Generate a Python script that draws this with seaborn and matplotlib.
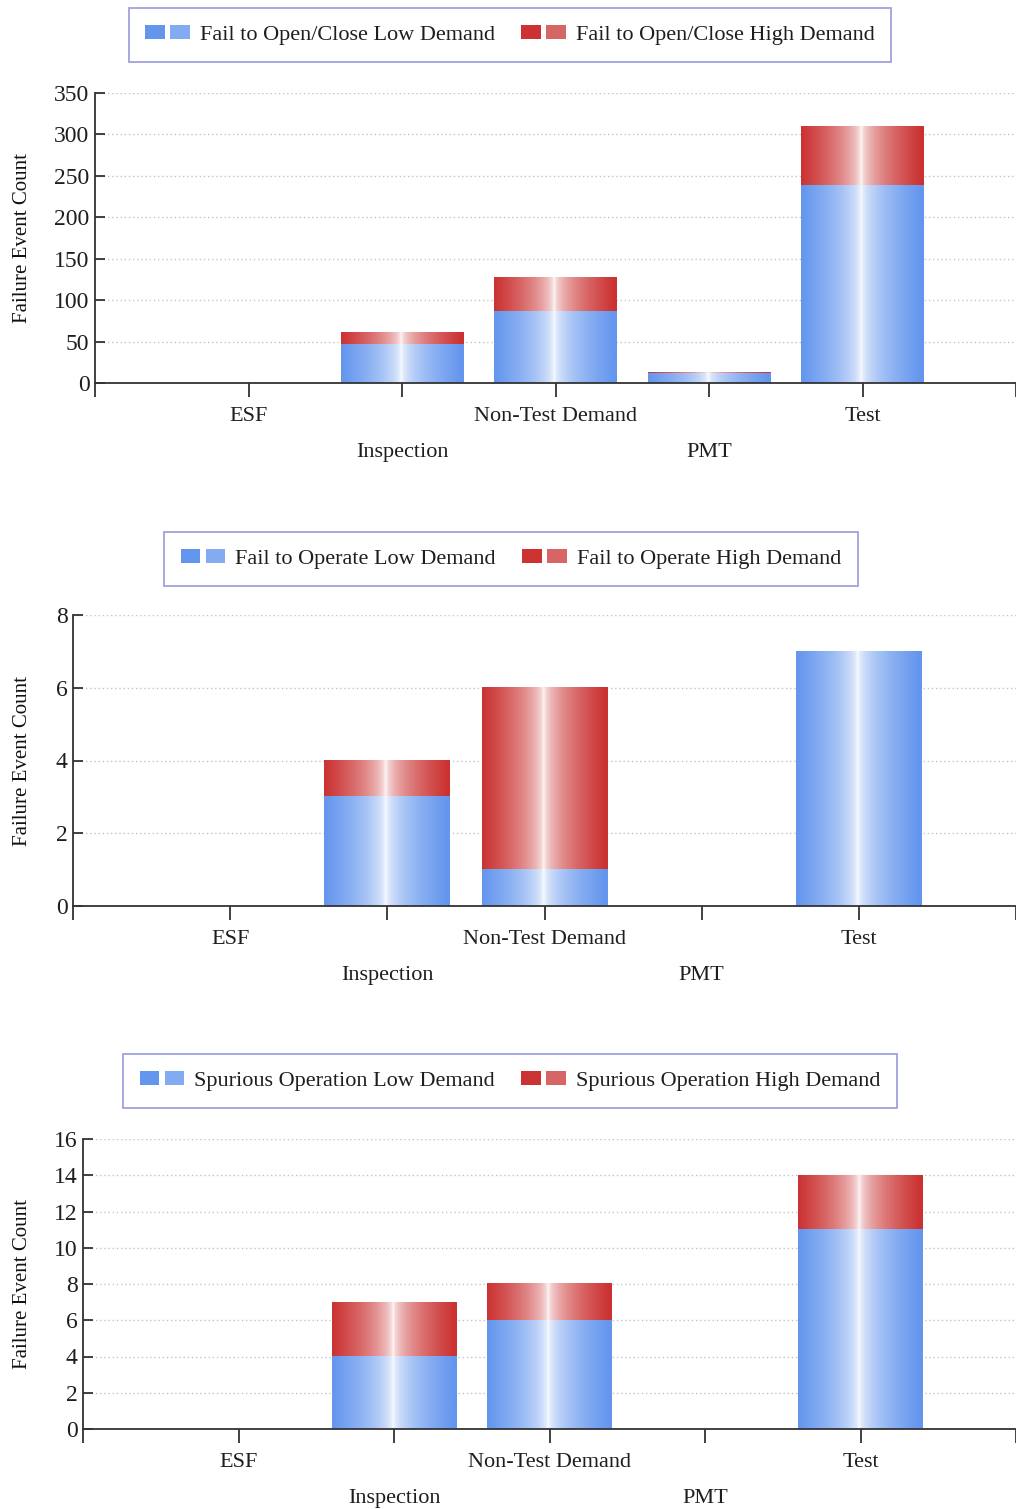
import numpy as np
import pandas as pd
import matplotlib
matplotlib.use('Agg')
import matplotlib.pyplot as plt
import seaborn as sns
from matplotlib.patches import Rectangle
from matplotlib.legend_handler import HandlerTuple
from matplotlib.colors import to_rgb
import matplotlib.transforms as mtransforms

# ---------------- data ----------------
categories = ['ESF', 'Inspection', 'Non-Test Demand', 'PMT', 'Test']

open_close_low = [0, 46, 86, 12, 238]
open_close_high = [0, 15, 41, 1, 72]

operate_low = [0, 3, 1, 0, 7]
operate_high = [0, 1, 5, 0, 0]

spurious_low = [0, 4, 6, 0, 11]
spurious_high = [0, 3, 2, 0, 3]

legend_labels = [
    ('Fail to Open/Close Low Demand', 'Fail to Open/Close High Demand'),
    ('Fail to Operate Low Demand', 'Fail to Operate High Demand'),
    ('Spurious Operation Low Demand', 'Spurious Operation High Demand'),
]
y_ticks = [list(range(0, 351, 50)), list(range(0, 9, 2)), list(range(0, 17, 2))]
y_label = 'Failure Event Count'

series = [(open_close_low, open_close_high),
          (operate_low, operate_high),
          (spurious_low, spurious_high)]

# ---------------- style ----------------
sns.set_theme(style='ticks')
plt.rcParams['font.family'] = ['Liberation Serif', 'DejaVu Serif']

BLUE = '#6496EE'
RED = '#CB3232'
TXT = '#1e1e1e'
AX = '#333333'

W, H = 1016, 1509
fig = plt.figure(figsize=(W / 100, H / 100), dpi=100)
fig.patch.set_facecolor('white')

# axes placement in pixels: (left, top, bottom)
ax_px = [(95, 93, 383), (73, 615, 906), (83, 1139, 1429)]
leg_px = [(510, 35), (511, 559), (510, 1081)]


def gradient_img(base, n=256):
    x = np.linspace(0, 1, n)
    t = np.clip(np.abs(x - 0.49) / 0.49, 0, 1) ** 0.5
    b = np.array(to_rgb(base))
    rgb = 1 - (1 - b)[None, :] * t[:, None]
    return rgb[None, :, :]


def lighten(c, f):
    b = np.array(to_rgb(c))
    return tuple(1 - (1 - b) * f)


for i, (low, high) in enumerate(series):
    left, top, bottom = ax_px[i]
    ax = fig.add_axes([left / W, 1 - bottom / H, (W - left) / W, (bottom - top) / H])
    total = [l + h for l, h in zip(low, high)]
    df = pd.DataFrame({'cat': categories, 'total': total, 'low': low})

    sns.barplot(data=df, x='cat', y='total', order=categories, color=RED,
                saturation=1, width=0.8, errorbar=None, ax=ax)
    n_red = len(ax.patches)
    sns.barplot(data=df, x='cat', y='low', order=categories, color=BLUE,
                saturation=1, width=0.8, errorbar=None, ax=ax)

    for k, p in enumerate(list(ax.patches)):
        is_red = k < n_red
        base = RED if is_red else BLUE
        x0, y0, w, h = p.get_x(), p.get_y(), p.get_width(), p.get_height()
        p.set_facecolor('none')
        p.set_edgecolor('none')
        if h <= 0:
            continue
        ax.imshow(gradient_img(base), extent=(x0, x0 + w, y0, y0 + h),
                  aspect='auto', interpolation='bilinear',
                  zorder=2.0 if is_red else 2.1)

    ymax = y_ticks[i][-1]
    ax.set_xlim(-1, 5)
    ax.set_ylim(0, ymax)
    ax.set_aspect('auto')

    ax.set_yticks(y_ticks[i])
    ax.set_xticks([-1, 0, 2, 4, 5], ['', categories[0], categories[2], categories[4], ''])
    ax.set_xticks([1, 3], [categories[1], categories[3]], minor=True)
    ax.tick_params(axis='x', which='both', direction='out', length=10, width=1.3,
                   color=AX, labelcolor=TXT, labelsize=16)
    ax.tick_params(axis='x', which='major', pad=7)
    ax.tick_params(axis='x', which='minor', pad=33)
    ax.tick_params(axis='y', direction='in', length=7, width=1.3, color=AX,
                   labelcolor=TXT, labelsize=17, pad=4)

    for s in ['top', 'right']:
        ax.spines[s].set_visible(False)
    for s in ['left', 'bottom']:
        ax.spines[s].set_color(AX)
        ax.spines[s].set_linewidth(1.3)

    ax.set_axisbelow(True)
    ax.yaxis.grid(True, linestyle=(0, (1, 2)), color='#c4c4c4', linewidth=1)
    ax.xaxis.grid(False)

    ax.set_xlabel('')
    ax.set_ylabel(y_label, fontsize=15, color='#111111')
    trans = mtransforms.blended_transform_factory(fig.transFigure, ax.transAxes)
    ax.yaxis.set_label_coords(32 / W, 0.5, transform=trans)

    h_low = (Rectangle((0, 0), 1, 1, fc=BLUE, ec='none'),
             Rectangle((0, 0), 1, 1, fc=lighten(BLUE, 0.8), ec='none'))
    h_high = (Rectangle((0, 0), 1, 1, fc=RED, ec='none'),
              Rectangle((0, 0), 1, 1, fc=lighten(RED, 0.75), ec='none'))
    cx, cy = leg_px[i]
    leg = ax.legend([h_low, h_high], list(legend_labels[i]),
                    handler_map={tuple: HandlerTuple(ndivide=None, pad=0.25)},
                    loc='center', bbox_to_anchor=(cx / W, 1 - cy / H),
                    bbox_transform=fig.transFigure, ncol=2, frameon=True,
                    fancybox=False, edgecolor='#9a9ade', framealpha=1,
                    fontsize=16, handlelength=2.0, handleheight=0.6,
                    handletextpad=0.45, columnspacing=1.2, borderpad=0.75)
    leg.get_frame().set_linewidth(1.2)
    for t in leg.get_texts():
        t.set_color(TXT)

fig.savefig('out.png', dpi=100)
